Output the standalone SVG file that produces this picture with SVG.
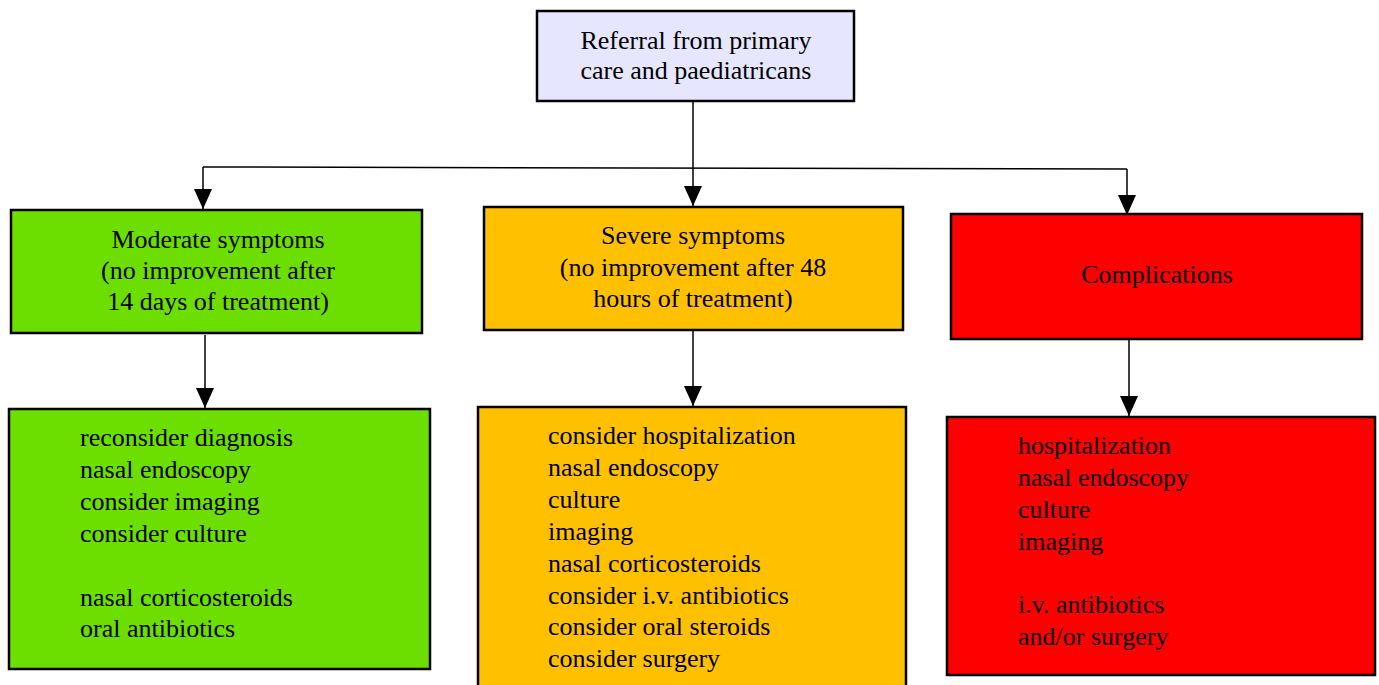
<svg xmlns="http://www.w3.org/2000/svg" width="1379" height="685" viewBox="0 0 1379 685">
<defs>
<marker id="ah" markerWidth="20" markerHeight="18" refX="20" refY="9" orient="auto" markerUnits="userSpaceOnUse" viewBox="0 0 20 18">
<path d="M0,0 L20,9 L0,18 Z" fill="#000"/>
</marker>
<style>
.box{stroke:#000;stroke-width:2.5}
.t{font-family:"Liberation Serif","Times New Roman",serif;font-size:26px;fill:#000}
.c{text-anchor:middle}
.ln{stroke:#000;stroke-width:1.5;fill:none}
</style>
</defs>
<rect width="1379" height="685" fill="#fff"/>
<g id="connectors">
<polyline class="ln" points="693,101 693,167"/>
<polyline class="ln" points="203,167 1127,169"/>
<polyline class="ln" points="203,167 203,209" marker-end="url(#ah)"/>
<polyline class="ln" points="693,167 693,206" marker-end="url(#ah)"/>
<polyline class="ln" points="1127,169 1127,215" marker-end="url(#ah)"/>
<polyline class="ln" points="205,335 205,408" marker-end="url(#ah)"/>
<polyline class="ln" points="693,331 693,406" marker-end="url(#ah)"/>
<polyline class="ln" points="1129,340 1129,416" marker-end="url(#ah)"/>
</g>
<g id="referral">
<rect class="box" x="537" y="11" width="317" height="90" fill="#e6e6fe"/>
<text class="t c" x="696" y="49">Referral from primary</text>
<text class="t c" x="696" y="79">care and paediatricans</text>
</g>
<g id="moderate">
<rect class="box" x="11" y="210" width="411" height="123" fill="#6cdf00"/>
<text class="t c" x="218" y="248">Moderate symptoms</text>
<text class="t c" x="218" y="279">(no improvement after</text>
<text class="t c" x="218" y="310">14 days of treatment)</text>
</g>
<g id="severe">
<rect class="box" x="484" y="207" width="419" height="123" fill="#ffc000"/>
<text class="t c" x="693" y="244">Severe symptoms</text>
<text class="t c" x="693" y="276">(no improvement after 48</text>
<text class="t c" x="693" y="307">hours of treatment)</text>
</g>
<g id="complications">
<rect class="box" x="951" y="214" width="411" height="125" fill="#ff0000"/>
<text class="t c" x="1157" y="283">Complications</text>
</g>
<g id="moderate-actions">
<rect class="box" x="9" y="409" width="421" height="260" fill="#6cdf00"/>
<text class="t" x="80" y="446">reconsider diagnosis</text>
<text class="t" x="80" y="478">nasal endoscopy</text>
<text class="t" x="80" y="510">consider imaging</text>
<text class="t" x="80" y="542">consider culture</text>
<text class="t" x="80" y="606">nasal corticosteroids</text>
<text class="t" x="80" y="637">oral antibiotics</text>
</g>
<g id="severe-actions">
<rect class="box" x="478" y="407" width="428" height="290" fill="#ffc000"/>
<text class="t" x="548" y="444">consider hospitalization</text>
<text class="t" x="548" y="476">nasal endoscopy</text>
<text class="t" x="548" y="508">culture</text>
<text class="t" x="548" y="540">imaging</text>
<text class="t" x="548" y="572">nasal corticosteroids</text>
<text class="t" x="548" y="604">consider i.v. antibiotics</text>
<text class="t" x="548" y="635">consider oral steroids</text>
<text class="t" x="548" y="667">consider surgery</text>
</g>
<g id="complication-actions">
<rect class="box" x="947" y="417" width="428" height="258" fill="#ff0000"/>
<text class="t" x="1018" y="454">hospitalization</text>
<text class="t" x="1018" y="486">nasal endoscopy</text>
<text class="t" x="1018" y="518">culture</text>
<text class="t" x="1018" y="550">imaging</text>
<text class="t" x="1018" y="613">i.v. antibiotics</text>
<text class="t" x="1018" y="645">and/or surgery</text>
</g>
</svg>
